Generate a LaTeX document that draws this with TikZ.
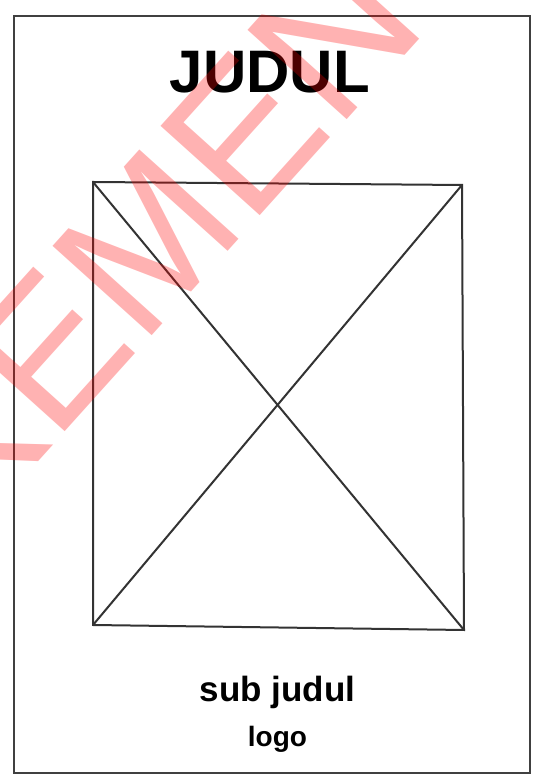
\documentclass[tikz,border=0pt]{standalone}
\usepackage{fontspec}
\setmainfont{Liberation Sans}
\begin{document}
\begin{tikzpicture}[x=1pt,y=1pt,
  frameline/.style={draw=black!75, line width=2pt},
  boxline/.style={draw=black!80, line width=2pt},
  label/.style={inner sep=0pt, anchor=base, text=black},
  watermark/.style={inner sep=0pt, anchor=base west, rotate=48, text=red, opacity=0.3, font=\fontsize{194}{194}\selectfont}]
\useasboundingbox (0,0) rectangle (533,776);
\fill[white] (0,0) rectangle (533,776);
% outer frame
\coordinate (ftl) at (14,760);
\coordinate (fbr) at (530,3);
\draw[frameline] (ftl) rectangle (fbr);
% picture placeholder box
\coordinate (tl) at (93,594);
\coordinate (tr) at (462,591);
\coordinate (br) at (464,146);
\coordinate (bl) at (93,151);
\draw[boxline, line join=miter] (tl) -- (tr) -- (br) -- (bl) -- cycle;
\draw[boxline] (tl) -- (br);
\draw[boxline] (tr) -- (bl);
% texts
\node[label, font=\bfseries\fontsize{60}{60}\selectfont] (title) at (270,683) {JUDUL};
\node[label, font=\bfseries\fontsize{35}{35}\selectfont] (sub) at (277.5,74) {sub judul};
\node[label, font=\bfseries\fontsize{28}{28}\selectfont] (logo) at (277.5,29) {logo};
% watermark
\begin{scope}
\clip (0,0) rectangle (533,776);
\node[watermark] (wm) at (-32,236) {KEMENTERIAN};
\end{scope}
\end{tikzpicture}
\end{document}
